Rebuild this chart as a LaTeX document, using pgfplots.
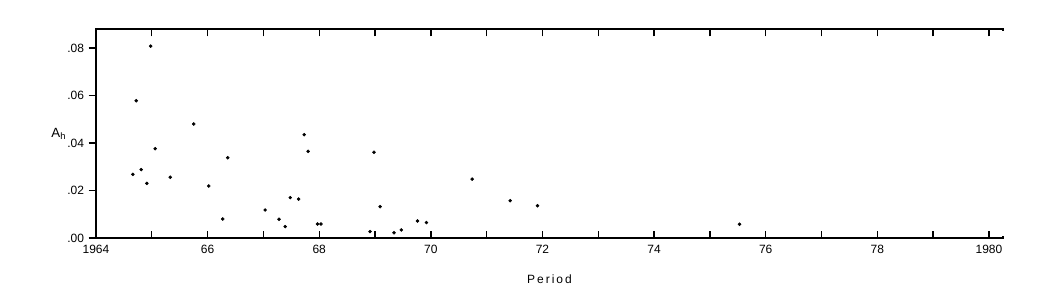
\documentclass[border=0pt]{standalone}
\usepackage{pgfplots}
\pgfplotsset{compat=1.18}
\usepackage{fontspec}
\setmainfont{Liberation Sans}
\begin{document}
\begin{tikzpicture}
\path (-72pt,-45pt) rectangle (720pt,178.5pt);
\begin{axis}[
  at={(0pt,0pt)}, anchor=south west,
  scale only axis, width=680.25pt, height=156.75pt,
  xmin=1964, xmax=1980.25, ymin=0, ymax=0.088,
  xtick pos=both, ytick pos=left,
  scaled y ticks=false,
  xtick={1964,...,1980},
  xticklabels={1964,,66,,68,,70,,72,,74,,76,,78,,1980},
  ytick={0,0.02,0.04,0.06,0.08},
  yticklabels={.00,.02,.04,.06,.08},
  tickwidth=5.5pt,
  tick style={black, line width=1pt},
  xtick align=inside,
  ytick align=outside,
  xmajorgrids,
  x grid style={black, line width=1pt, dash pattern=on 5.5pt off 145.75pt on 5.5pt off 0pt},
  tick label style={font=\small},
  xticklabel style={yshift=-2pt},
  xlabel={P\,e\,r\,i\,o\,d}, xlabel style={font=\small, yshift=-9pt},
  ylabel={A$_{\mathrm{h}}$}, ylabel style={rotate=-90, font=\normalsize, xshift=6pt},
  axis line style={line width=0.8pt},
  clip=false,
]
\addplot[only marks, mark=*, mark size=1.1pt, black] coordinates {
(1964.98,0.0808) (1964.72,0.0578) (1965.75,0.0480) (1967.73,0.0435)
(1965.06,0.0376) (1967.80,0.0365) (1966.36,0.0338) (1964.66,0.0268)
(1964.81,0.0288) (1965.33,0.0256) (1964.91,0.0230) (1966.02,0.0219)
(1967.48,0.0170) (1967.63,0.0164) (1967.03,0.0118) (1966.27,0.0080)
(1967.28,0.0079) (1967.39,0.0048) (1967.97,0.0059) (1968.03,0.0059)
(1968.98,0.0361) (1969.09,0.0132) (1970.74,0.0248) (1971.42,0.0157)
(1971.91,0.0136) (1969.76,0.0072) (1969.92,0.0065) (1968.91,0.0027)
(1969.34,0.0022) (1969.47,0.0034) (1975.53,0.0058)
};
\draw[white, line width=1.6pt] (rel axis cs:1,0.01) -- (rel axis cs:1,0.99);
\end{axis}
\end{tikzpicture}
\end{document}
